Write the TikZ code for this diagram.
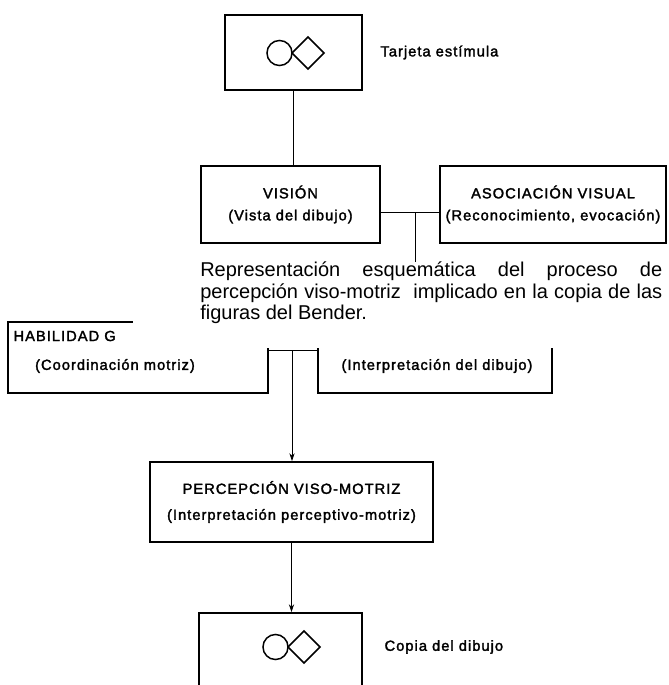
\documentclass[tikz,border=0pt]{standalone}
\usepackage{fontspec}
\setmainfont{Liberation Sans}
\newfontfamily\rotulofont[LetterSpace=7,FakeBold=2]{Liberation Sans}
\usetikzlibrary{positioning, arrows.meta}

\begin{document}
\begin{tikzpicture}[%
        x = 0.75pt, y = -0.75pt,
        recuadro/.style = {draw, line width = 1.3pt, inner sep = 1pt},
        rotulo/.style = {font = \rotulofont\fontsize{11}{16.5}\selectfont, align = center, inner sep = 1pt},
        leyenda/.style = {font = \fontsize{15}{16}\selectfont, align = justify, inner sep = 0pt},
        enlace/.style = {line width = 0.6pt},
        flecha/.style = {enlace, -{Stealth[length = 6pt, width = 4pt]}}
    ]

        % Page frame (the scan is cut at its lower edge).
        \useasboundingbox (0,0) rectangle (668,685);
        \clip (0,0) rectangle (668,685);

        % Boxes of the upper part.
        \node[recuadro, minimum width = 102.75pt, minimum height = 56.25pt] (tarjeta) at (293.5,52.5) {};
        \node[recuadro, rotulo, minimum width = 134.25pt, minimum height = 57.75pt] (vision) at (290.5,204.5) {VISIÓN\\(Vista del dibujo)};
        \node[recuadro, rotulo, minimum width = 169.5pt, minimum height = 57.75pt] (asociacion) at (553,204.5) {ASOCIACIÓN VISUAL\\(Reconocimiento, evocación)};
        \node[rotulo, right = 12pt of tarjeta] (tarjetatexto) {Tarjeta estímula};

        % Boxes of the lower part.
        \node[recuadro, minimum width = 195pt, minimum height = 53.25pt] (habilidad) at (138,357.5) {};
        \node[recuadro, minimum width = 175.5pt, minimum height = 53.25pt] (interpretacion) at (435,357.5) {};
        \node[recuadro, rotulo, minimum width = 212.25pt, minimum height = 60pt] (percepcion) at (291.5,502) {PERCEPCIÓN VISO-MOTRIZ\\[3pt](Interpretación perceptivo-motriz)};
        \node[recuadro, minimum width = 122.25pt, minimum height = 65.25pt] (copia) at (280.5,656.5) {};
        \node[rotulo, anchor = west] (copiatexto) at (383,647) {Copia del dibujo};

        \node[rotulo, anchor = west] (habtitulo) at (12,336) {HABILIDAD G};
        \node[rotulo] (habtexto) at (115,366) {(Coordinación motriz)};
        \node[rotulo] (inttexto) at (437,366) {(Interpretación del dibujo)};

        % Circle and diamond of the card and of the copy.
        \foreach \cx/\cy in {292/53, 288/647}{%
            \draw[line width = 1.1pt] (\cx-12.5,\cy) circle [radius = 9.4pt];
            \draw[line width = 1.1pt] (\cx,\cy) -- (\cx+16,\cy-16) -- (\cx+32,\cy) -- (\cx+16,\cy+16) -- cycle;
        }

        % Connectors.
        \coordinate (cruce) at (415,212);
        \coordinate (union) at (292,350);
        \draw[enlace] (tarjeta.south) -- (tarjeta.south |- vision.north);
        \draw[enlace] (vision.east |- cruce) -- (asociacion.west |- cruce);
        \draw[enlace] (habilidad.east |- union) -- (interpretacion.west |- union);
        \draw[flecha] (union) -- (union |- percepcion.north);
        \draw[flecha] (percepcion.south) -- (percepcion.south |- copia.north);

        % The caption is pasted over the middle of the scheme.
        \fill[white] (133,258) rectangle (668,348);
        \node[leyenda, anchor = north west, text width = 346.5pt] (leyenda) at (200,262) {Representación esquemática del proceso de\linebreak percepción viso-motriz\ \ implicado en la copia de las\linebreak figuras del Bender.};
        \draw[enlace] (cruce) -- (cruce |- leyenda.north);
    \end{tikzpicture}
\end{document}
